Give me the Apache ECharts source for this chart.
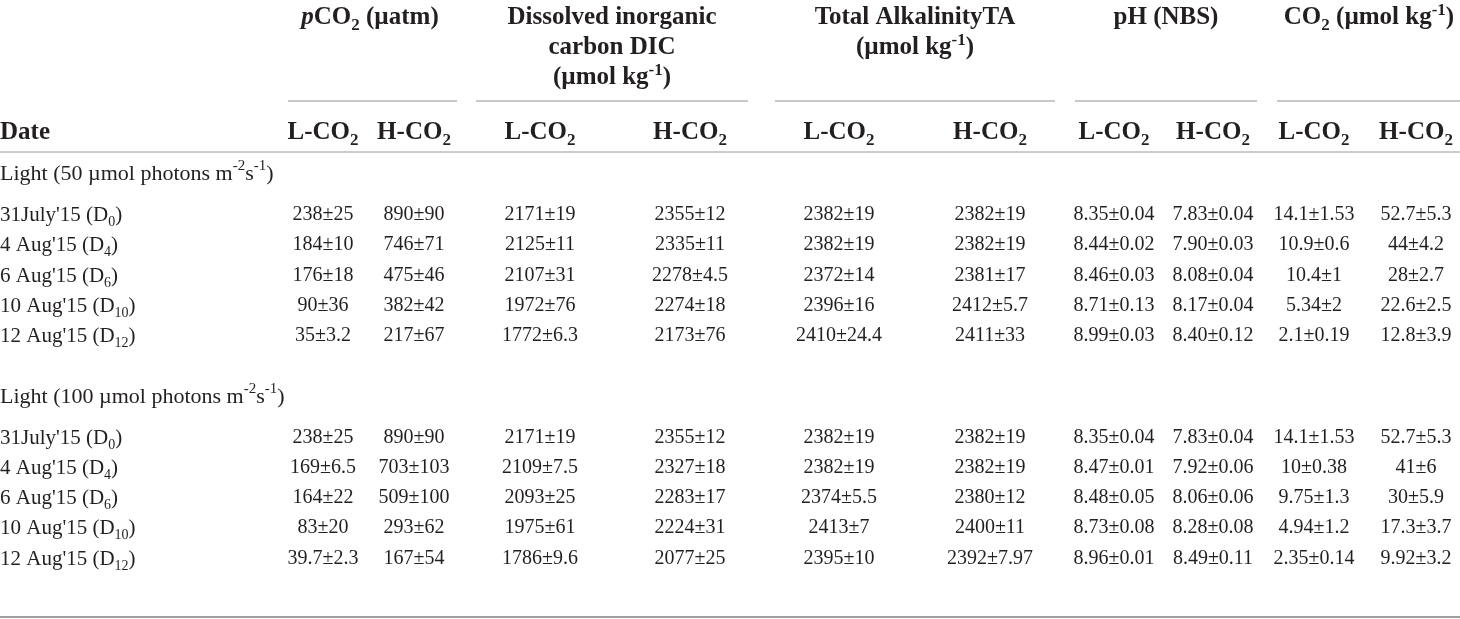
<!DOCTYPE html>
<html>
<head>
<meta charset="utf-8">
<script src="https://cdn.jsdelivr.net/npm/echarts@6/dist/echarts.min.js"></script>
<style>
html,body{margin:0;padding:0;background:#fff;}
#chart{width:1460px;height:619px;}
</style>
</head>
<body>
<div id="chart"></div>
<script>
// ---------- DATA ----------
const groupHeaders = [
  ["*p*CO_{2} (µatm)"],
  ["Dissolved inorganic", "carbon DIC", "(µmol kg^{-1})"],
  ["Total AlkalinityTA", "(µmol kg^{-1})"],
  ["pH (NBS)"],
  ["CO_{2} (µmol kg^{-1})"]
];
const dateHeader = "Date";
const subHeaders = ["L-CO_{2}", "H-CO_{2}", "L-CO_{2}", "H-CO_{2}", "L-CO_{2}", "H-CO_{2}", "L-CO_{2}", "H-CO_{2}", "L-CO_{2}", "H-CO_{2}"];
const sections = ["Light (50 µmol photons m^{-2}s^{-1})", "Light (100 µmol photons m^{-2}s^{-1})"];
const dates = ["31July'15 (D_{0})", "4 Aug'15 (D_{4})", "6 Aug'15 (D_{6})", "10 Aug'15 (D_{10})", "12 Aug'15 (D_{12})"];

const pco2L50 = ["238±25", "184±10", "176±18", "90±36", "35±3.2"];
const pco2H50 = ["890±90", "746±71", "475±46", "382±42", "217±67"];
const dicL50  = ["2171±19", "2125±11", "2107±31", "1972±76", "1772±6.3"];
const dicH50  = ["2355±12", "2335±11", "2278±4.5", "2274±18", "2173±76"];
const taL50   = ["2382±19", "2382±19", "2372±14", "2396±16", "2410±24.4"];
const taH50   = ["2382±19", "2382±19", "2381±17", "2412±5.7", "2411±33"];
const phL50   = ["8.35±0.04", "8.44±0.02", "8.46±0.03", "8.71±0.13", "8.99±0.03"];
const phH50   = ["7.83±0.04", "7.90±0.03", "8.08±0.04", "8.17±0.04", "8.40±0.12"];
const co2L50  = ["14.1±1.53", "10.9±0.6", "10.4±1", "5.34±2", "2.1±0.19"];
const co2H50  = ["52.7±5.3", "44±4.2", "28±2.7", "22.6±2.5", "12.8±3.9"];

const pco2L100 = ["238±25", "169±6.5", "164±22", "83±20", "39.7±2.3"];
const pco2H100 = ["890±90", "703±103", "509±100", "293±62", "167±54"];
const dicL100  = ["2171±19", "2109±7.5", "2093±25", "1975±61", "1786±9.6"];
const dicH100  = ["2355±12", "2327±18", "2283±17", "2224±31", "2077±25"];
const taL100   = ["2382±19", "2382±19", "2374±5.5", "2413±7", "2395±10"];
const taH100   = ["2382±19", "2382±19", "2380±12", "2400±11", "2392±7.97"];
const phL100   = ["8.35±0.04", "8.47±0.01", "8.48±0.05", "8.73±0.08", "8.96±0.01"];
const phH100   = ["7.83±0.04", "7.92±0.06", "8.06±0.06", "8.28±0.08", "8.49±0.11"];
const co2L100  = ["14.1±1.53", "10±0.38", "9.75±1.3", "4.94±1.2", "2.35±0.14"];
const co2H100  = ["52.7±5.3", "41±6", "30±5.9", "17.3±3.7", "9.92±3.2"];

const section50  = [pco2L50, pco2H50, dicL50, dicH50, taL50, taH50, phL50, phH50, co2L50, co2H50];
const section100 = [pco2L100, pco2H100, dicL100, dicH100, taL100, taH100, phL100, phH100, co2L100, co2H100];

// ---------- LAYOUT ----------
const colX = [323, 414, 540, 690, 839, 990, 1114, 1213, 1314, 1416];
const groupX = [370, 612, 915, 1166, 1369];
const groupSpan = [[288, 457], [476, 748], [775, 1055], [1075, 1257], [1277, 1460]];
const headLineY = [18, 48, 78];
const groupRuleY = 101;
const subHeadY = 133;
const headRuleY = 152;
const sectionY = [174, 397];
const rowY = [[215, 245, 276, 306, 336], [438, 468, 498, 528, 559]];
const bottomRuleY = 617;
const dateX = 0;

// ---------- helpers ----------
function toRich(s, p) {
  let out = '';
  let i = 0, buf = '';
  const flush = () => { if (buf) { out += '{' + p + '|' + buf + '}'; buf = ''; } };
  while (i < s.length) {
    const c = s[i];
    if ((c === '_' || c === '^') && s[i + 1] === '{') {
      flush();
      const end = s.indexOf('}', i);
      out += '{' + p + (c === '_' ? 'sub' : 'sup') + '|' + s.slice(i + 2, end) + '}';
      i = end + 1;
    } else if (c === '*') {
      flush();
      const end = s.indexOf('*', i + 1);
      out += '{' + p + 'it|' + s.slice(i + 1, end) + '}';
      i = end + 1;
    } else { buf += c; i++; }
  }
  flush();
  return out;
}
const FONT = '"Liberation Serif", "DejaVu Serif", serif';
const COLOR = '#231f20';
function styleSet(size, subSize, weight, lh) {
  return {
    base: {fontFamily: FONT, fontSize: size, fontWeight: weight, fill: COLOR, color: COLOR, lineHeight: lh, verticalAlign: 'middle'},
    sub:  {fontFamily: FONT, fontSize: subSize, fontWeight: weight, fill: COLOR, color: COLOR, lineHeight: Math.round(lh * 0.62), verticalAlign: 'bottom'},
    sup:  {fontFamily: FONT, fontSize: subSize, fontWeight: weight, fill: COLOR, color: COLOR, lineHeight: Math.round(lh * 0.36), verticalAlign: 'top'},
    it:   {fontFamily: FONT, fontSize: size, fontWeight: weight, fontStyle: 'italic', fill: COLOR, color: COLOR, lineHeight: lh, verticalAlign: 'middle'}
  };
}
const richStyles = {};
[['n', styleSet(20, 14, 'normal', 28)], ['d', styleSet(21, 14, 'normal', 28)], ['s', styleSet(22, 15, 'normal', 30)], ['h', styleSet(25, 17, 'bold', 32)]].forEach(([k, st]) => {
  richStyles[k] = st.base; richStyles[k + 'sub'] = st.sub; richStyles[k + 'sup'] = st.sup; richStyles[k + 'it'] = st.it;
});

// ---------- build cell list ----------
// each item: [x, y, text, styleKey, align]
const cells = [];
groupHeaders.forEach((lines, g) => lines.forEach((t, k) => cells.push([groupX[g], headLineY[k], t, 'h', 'center'])));
cells.push([dateX, subHeadY, dateHeader, 'h', 'left']);
subHeaders.forEach((t, c) => cells.push([colX[c], subHeadY, t, 'h', 'center']));
[section50, section100].forEach((sec, s) => {
  cells.push([dateX, sectionY[s], sections[s], 's', 'left']);
  dates.forEach((d, r) => cells.push([dateX, rowY[s][r], d, 'd', 'left']));
  sec.forEach((col, c) => col.forEach((v, r) => cells.push([colX[c], rowY[s][r], v, 'n', 'center'])));
});

// rules: [x1, x2, y, kind]
const rules = [];
groupSpan.forEach(sp => rules.push([sp[0], sp[1], groupRuleY, 0]));
rules.push([0, 1460, headRuleY, 1]);
rules.push([0, 1460, bottomRuleY, 2]);
const ruleStyle = [
  {stroke: '#c8c8c8', lineWidth: 2},
  {stroke: '#9a9a9a', lineWidth: 1},
  {stroke: '#a0a0a0', lineWidth: 2}
];

const chart = echarts.init(document.getElementById('chart'), null, {renderer: 'canvas'});
chart.setOption({
  backgroundColor: '#ffffff',
  animation: false,
  grid: {left: 0, right: 0, top: 0, bottom: 0},
  xAxis: {type: 'value', min: 0, max: 1460, show: false},
  yAxis: {type: 'value', min: 0, max: 619, inverse: true, show: false},
  series: [
    {
      type: 'custom',
      data: rules,
      silent: true,
      renderItem: function (params, api) {
        const p1 = api.coord([api.value(0), api.value(2)]);
        const p2 = api.coord([api.value(1), api.value(2)]);
        const st = ruleStyle[api.value(3)];
        return {type: 'line', shape: {x1: p1[0], y1: p1[1], x2: p2[0], y2: p2[1]}, style: {stroke: st.stroke, lineWidth: st.lineWidth}};
      }
    },
    {
      type: 'custom',
      data: cells,
      silent: true,
      dimensions: ['x', 'y', 'text', 'style', 'align'],
      encode: {x: 0, y: 1},
      renderItem: function (params, api) {
        const d = cells[params.dataIndex];
        const p = api.coord([d[0], d[1]]);
        return {
          type: 'text',
          x: p[0], y: p[1],
          style: {
            text: toRich(d[2], d[3]),
            rich: richStyles,
            align: d[4],
            verticalAlign: 'middle',
            fill: COLOR
          }
        };
      }
    }
  ]
});
</script>
</body>
</html>
